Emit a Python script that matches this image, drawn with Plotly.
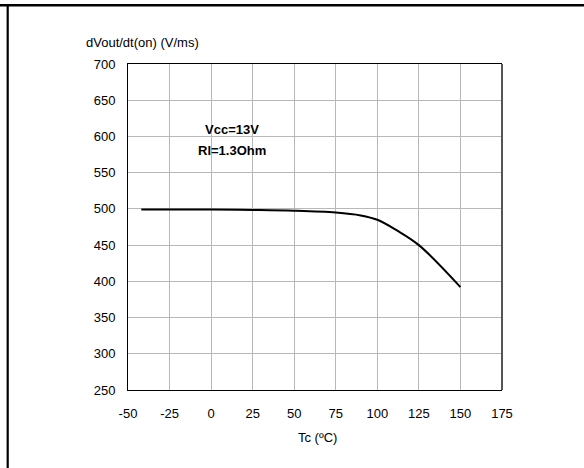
import plotly.graph_objects as go

# Data
tc = [-42, 0, 25, 50, 75, 90, 100, 112, 125, 150]
dvdt = [499, 499, 498.5, 497.5, 495, 491, 485, 470, 450, 392]

x_ticks = [-50, -25, 0, 25, 50, 75, 100, 125, 150, 175]
y_ticks = [250, 300, 350, 400, 450, 500, 550, 600, 650, 700]

FONT = "Liberation Sans, Arial, sans-serif"
FS = 13

fig = go.Figure()
fig.add_trace(go.Scatter(
    x=tc, y=dvdt, mode="lines",
    line=dict(color="black", width=2, shape="spline", smoothing=1.0),
    hoverinfo="skip", showlegend=False))

fig.update_layout(
    width=584, height=468,
    margin=dict(l=128, r=82, t=64, b=78),
    paper_bgcolor="white", plot_bgcolor="white",
    font=dict(family=FONT, size=FS, color="black"),
    showlegend=False,
    xaxis=dict(range=[-50, 175], tickvals=x_ticks, ticktext=[str(v) for v in x_ticks],
               showgrid=True, gridcolor="#b8b8b8", gridwidth=1,
               showline=True, linecolor="black", linewidth=1, mirror=True,
               zeroline=False, ticks="", ticklabelstandoff=11,
               tickfont=dict(family=FONT, size=FS, color="black")),
    yaxis=dict(range=[250, 700], tickvals=y_ticks, ticktext=[str(v) for v in y_ticks],
               showgrid=True, gridcolor="#b8b8b8", gridwidth=1,
               showline=True, linecolor="black", linewidth=1, mirror=False,
               zeroline=False, ticks="", ticklabelstandoff=9,
               tickfont=dict(family=FONT, size=FS, color="black")),
    annotations=[
        dict(text="dVout/dt(on) (V/ms)", xref="paper", yref="paper",
             x=(84 - 128) / 374, y=(390 - 43) / 326, xanchor="left", yanchor="middle",
             showarrow=False, font=dict(family=FONT, size=FS, color="black")),
        dict(text="Tc (ºC)", xref="paper", yref="paper",
             x=(317 - 128) / 374, y=(390 - 437) / 326, xanchor="center", yanchor="middle",
             showarrow=False, font=dict(family=FONT, size=FS, color="black")),
        dict(text="<b>Vcc=13V</b>", xref="x", yref="y", x=12.6, y=609,
             xanchor="center", yanchor="middle", showarrow=False,
             font=dict(family=FONT, size=FS, color="black")),
        dict(text="<b>Rl=1.3Ohm</b>", xref="x", yref="y", x=12.6, y=580,
             xanchor="center", yanchor="middle", showarrow=False,
             font=dict(family=FONT, size=FS, color="black")),
    ],
    shapes=[
        # right edge of plot frame (dark gray)
        dict(type="line", xref="paper", yref="paper", x0=1, x1=1, y0=0, y1=1,
             line=dict(color="#555555", width=2)),
        # outer page frame: top line and left line
        dict(type="line", xref="paper", yref="paper",
             x0=-128 / 374, x1=456 / 374, y0=(390 - 5.3) / 326, y1=(390 - 5.3) / 326,
             line=dict(color="black", width=2.5)),
        dict(type="line", xref="paper", yref="paper",
             x0=(7.7 - 128) / 374, x1=(7.7 - 128) / 374, y0=(390 - 5.3) / 326, y1=-80 / 326,
             line=dict(color="black", width=2.2)),
    ],
)

fig.write_html("out.html")
